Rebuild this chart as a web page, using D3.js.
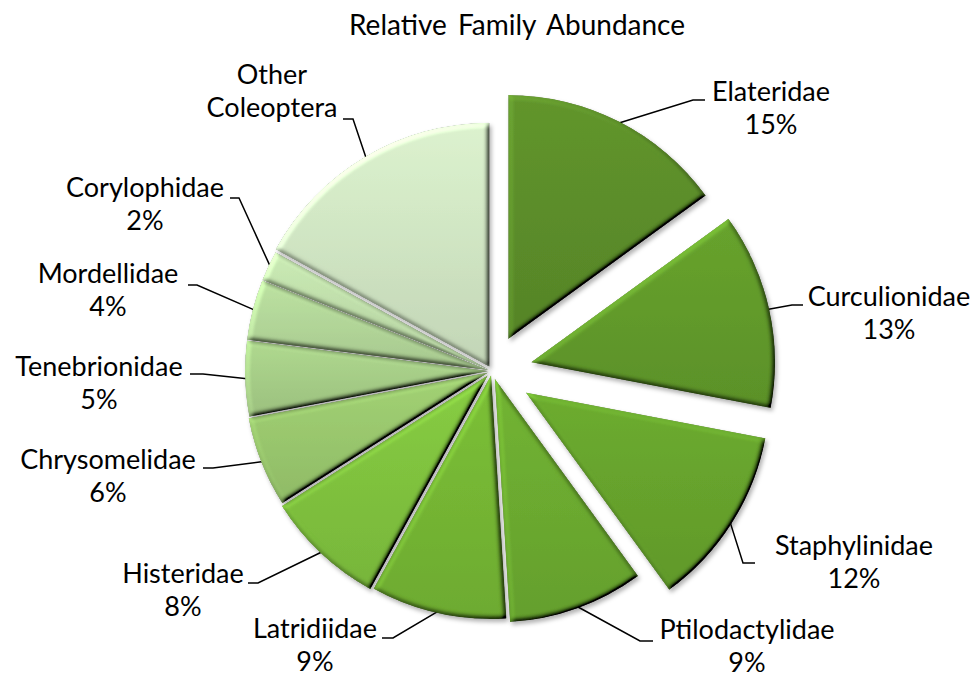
<!DOCTYPE html>
<html>
<head>
<meta charset="utf-8">
<script src="https://cdn.jsdelivr.net/npm/d3@7"></script>
<style>
  body { margin: 0; background: #fff; }
  svg text { font-family: Lato, "Open Sans", sans-serif; fill: #000; }
</style>
</head>
<body>
<svg id="chart" width="975" height="680"></svg>
<script>
// Data (clockwise from 12 o'clock)
var families = ["Elateridae", "Curculionidae", "Staphylinidae", "Ptilodactylidae",
  "Latridiidae", "Histeridae", "Chrysomelidae", "Tenebrionidae", "Mordellidae",
  "Corylophidae", "Other Coleoptera"];
var shares = [15, 13, 12, 9, 9, 8, 6, 5, 4, 2, 17];
var showPct = [true, true, true, true, true, true, true, true, true, true, false];
var colors = ["#5a8b29", "#60982a", "#65a02c", "#6aa82f", "#73b333", "#7ebf3d",
  "#97c46c", "#a3ca85", "#afd296", "#bcdaa8", "#cde1c0"];

// Layout
var svg = d3.select("#chart"),
  width = +svg.attr("width"),
  height = +svg.attr("height"),
  cx = 492, cy = 371, radius = 244;
var explode = [36, 40, 40, 8, 4, 6, 4, 3, 3, 3, 5];
// label text centre x, first baseline y
var labelPos = [[771, 101], [889, 306], [854, 555], [747, 639], [315, 638], [183, 583],
  [108, 469], [99, 376], [108, 283], [145, 197], [272, 84]];
// leader: horizontal segment x1 -> x2 at y, then to the slice edge
var leaders = [[705, 693, 100], [803, 792, 305], [755, 743, 563], [653, 640, 641],
  [382, 393, 638], [248, 258, 583], [203, 213, 468], [190, 203, 374],
  [188, 197, 285], [230, 239, 198], [343, 353, 119]];

var total = d3.sum(shares);
var pct = d3.format(".0%");

var pie = d3.pie().sort(null).value(d => d);
var arcs = pie(shares);
var arc = d3.arc().innerRadius(0).outerRadius(radius);

var defs = svg.append("defs");

// gradient per slice, lighter on top
colors.forEach(function (c, i) {
  var g = defs.append("linearGradient")
    .attr("id", "grad" + i)
    .attr("x1", 0).attr("y1", 0).attr("x2", 0).attr("y2", 1);
  g.append("stop").attr("offset", "0%").attr("stop-color", d3.color(c).brighter(0.2));
  g.append("stop").attr("offset", "100%").attr("stop-color", d3.color(c).darker(0.15));
});

// bevel + drop shadow
var f = defs.append("filter").attr("id", "bevel")
  .attr("x", "-10%").attr("y", "-10%").attr("width", "125%").attr("height", "125%");
f.append("feGaussianBlur").attr("in", "SourceAlpha").attr("stdDeviation", 2.5).attr("result", "blur");
f.append("feDiffuseLighting").attr("in", "blur").attr("surfaceScale", 4)
  .attr("diffuseConstant", 0.5 / Math.sin(Math.PI / 4)).attr("lighting-color", "#fff")
  .attr("result", "diff")
  .append("feDistantLight").attr("azimuth", 225).attr("elevation", 45);
f.append("feComposite").attr("in", "SourceGraphic").attr("in2", "diff")
  .attr("operator", "arithmetic").attr("k1", 2).attr("k2", 0).attr("k3", 0).attr("k4", 0)
  .attr("result", "shade");
f.append("feComposite").attr("in", "shade").attr("in2", "SourceAlpha")
  .attr("operator", "in").attr("result", "lit");
f.append("feOffset").attr("in", "SourceAlpha").attr("dx", 2).attr("dy", 3).attr("result", "off");
f.append("feGaussianBlur").attr("in", "off").attr("stdDeviation", 2).attr("result", "shBlur");
f.append("feFlood").attr("flood-color", "#000").attr("flood-opacity", 0.3);
f.append("feComposite").attr("in2", "shBlur").attr("operator", "in").attr("result", "shadow");
var merge = f.append("feMerge");
merge.append("feMergeNode").attr("in", "shadow");
merge.append("feMergeNode").attr("in", "lit");

function offsetOf(d, i) {
  var a = (d.startAngle + d.endAngle) / 2;
  return [explode[i] * Math.sin(a), -explode[i] * Math.cos(a)];
}

// leader lines
svg.append("g").selectAll("path")
  .data(arcs)
  .join("path")
  .attr("fill", "none")
  .attr("stroke", "#000")
  .attr("stroke-width", 1.5)
  .attr("d", function (d, i) {
    var o = offsetOf(d, i);
    var a = (d.startAngle + d.endAngle) / 2;
    var ex = cx + o[0] + (radius - 2) * Math.sin(a),
      ey = cy + o[1] - (radius - 2) * Math.cos(a);
    var l = leaders[i];
    return "M" + l[0] + "," + l[2] + "L" + l[1] + "," + l[2] + "L" + ex + "," + ey;
  });

// slices
svg.append("g").selectAll("path")
  .data(arcs)
  .join("path")
  .attr("transform", function (d, i) {
    var o = offsetOf(d, i);
    return "translate(" + (cx + o[0]) + "," + (cy + o[1]) + ")";
  })
  .attr("d", arc)
  .attr("fill", (d, i) => "url(#grad" + i + ")")
  .attr("filter", "url(#bevel)");

// labels
var labels = svg.append("g").selectAll("text")
  .data(arcs)
  .join("text")
  .attr("text-anchor", "middle")
  .attr("font-size", 27)
  .attr("x", (d, i) => labelPos[i][0])
  .attr("y", (d, i) => labelPos[i][1]);

labels.each(function (d, i) {
  var lines = showPct[i] ? [families[i], pct(d.data / total)] : families[i].split(" ");
  d3.select(this).selectAll("tspan")
    .data(lines)
    .join("tspan")
    .attr("x", labelPos[i][0])
    .attr("dy", (t, j) => j ? 33 : 0)
    .text(t => t);
});

// title
svg.append("text")
  .attr("x", 517)
  .attr("y", 35)
  .attr("text-anchor", "middle")
  .attr("font-size", 28)
  .attr("word-spacing", 4)
  .text("Relative Family Abundance");
</script>
</body>
</html>
